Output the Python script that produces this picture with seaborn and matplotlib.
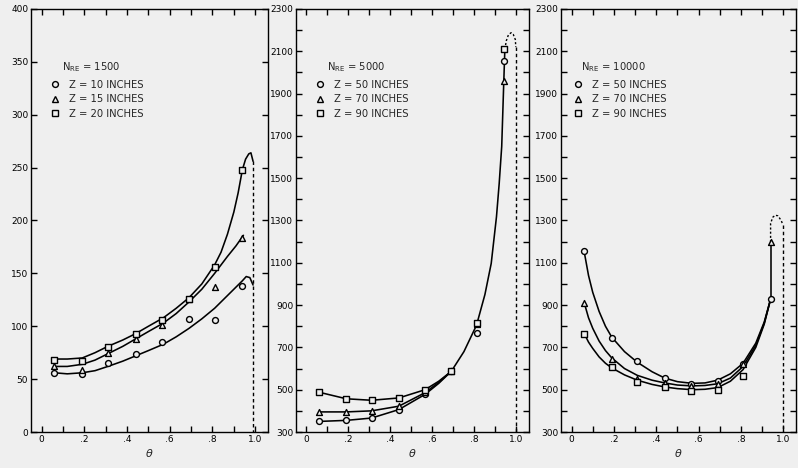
import numpy as np
import pandas as pd
import matplotlib
matplotlib.use("Agg")
import matplotlib.pyplot as plt
from matplotlib.lines import Line2D
import seaborn as sns

# measured points (theta, value) for each panel
theta = [0.06, 0.19, 0.31, 0.44, 0.565, 0.69, 0.81, 0.94]

p1_labels = ["Z = 10 INCHES", "Z = 15 INCHES", "Z = 20 INCHES"]
p1_z10 = [56, 55, 65, 74, 85, 107, 106, 138]
p1_z15 = [62, 59, 75, 88, 101, 126, 137, 183]
p1_z20 = [68, 67, 80, 93, 106, 126, 156, 248]

p2_labels = ["Z = 50 INCHES", "Z = 70 INCHES", "Z = 90 INCHES"]
p2_z50 = [350, 355, 366, 406, 482, 587, 768, 2054]
p2_z70 = [395, 395, 399, 422, 489, 587, 813, 1959]
p2_z90 = [488, 455, 450, 461, 500, 587, 815, 2110]

p3_labels = ["Z = 50 INCHES", "Z = 70 INCHES", "Z = 90 INCHES"]
p3_z50 = [1156, 745, 634, 553, 526, 541, 623, 928]
p3_z70 = [910, 647, 552, 532, 518, 525, 620, 1198]
p3_z90 = [761, 607, 536, 513, 494, 500, 565, np.nan]

# fitted curves
c1_x = [0.06, 0.12, 0.19, 0.25, 0.31, 0.38, 0.44, 0.50, 0.57, 0.63, 0.69, 0.75, 0.81, 0.87, 0.91, 0.94, 0.958, 0.975, 0.99]
c1_z10 = [56, 55, 56, 58, 62, 67, 72, 77, 83, 90, 98, 107, 117, 129, 137, 143, 147, 146, 139]
c1_x15 = [0.06, 0.12, 0.19, 0.25, 0.31, 0.38, 0.44, 0.50, 0.57, 0.63, 0.69, 0.75, 0.81, 0.87, 0.91, 0.945]
c1_z15 = [62, 62, 64, 68, 74, 81, 88, 95, 103, 112, 123, 135, 150, 166, 176, 186]
c1_x20 = [0.06, 0.12, 0.19, 0.25, 0.31, 0.38, 0.44, 0.50, 0.57, 0.63, 0.69, 0.75, 0.81, 0.84, 0.87, 0.90, 0.92, 0.94, 0.955, 0.97, 0.98, 0.99]
c1_z20 = [69, 69, 70, 75, 81, 87, 93, 100, 108, 117, 127, 140, 158, 170, 187, 208, 226, 248, 258, 263, 264, 256]
c1_drop_x = [0.99, 0.99]
c1_drop_y = [256, 0]

c2_x = [0.06, 0.19, 0.31, 0.44, 0.565, 0.63, 0.69]
c2_z50 = [350, 355, 366, 406, 478, 530, 587]
c2_z70 = [395, 395, 400, 422, 486, 535, 587]
c2_z90 = [488, 457, 450, 461, 500, 540, 587]
c2_top_x = [0.69, 0.75, 0.81, 0.85, 0.88, 0.905, 0.918, 0.93, 0.94, 0.945]
c2_top_y = [587, 680, 805, 950, 1097, 1317, 1475, 1650, 1960, 2110]
c2_dot_x = [0.945, 0.952, 0.962, 0.975, 0.985, 0.995, 0.997]
c2_dot_y = [2110, 2150, 2178, 2188, 2180, 2155, 2120]
c2_drop_x = [0.997, 0.997]
c2_drop_y = [2120, 300]

c3_x = [0.06, 0.08, 0.10, 0.13, 0.16, 0.19, 0.25, 0.31, 0.38, 0.44, 0.50, 0.57, 0.63, 0.69, 0.75, 0.81, 0.87, 0.91, 0.94]
c3_z50 = [1150, 1040, 960, 870, 800, 748, 680, 630, 585, 555, 538, 530, 532, 545, 575, 625, 720, 820, 928]
c3_z70 = [910, 840, 790, 730, 685, 650, 600, 568, 545, 532, 522, 518, 520, 528, 555, 610, 710, 815, 928]
c3_z90 = [765, 725, 695, 655, 625, 603, 570, 545, 525, 513, 505, 500, 502, 510, 540, 595, 700, 810, 928]
c3_rise_x = [0.94, 0.94]
c3_rise_y = [928, 1198]
c3_dot_x = [0.94, 0.94, 0.95, 0.962, 0.975, 0.99, 0.998]
c3_dot_y = [1198, 1286, 1315, 1325, 1322, 1300, 1280]
c3_drop_x = [0.998, 0.998]
c3_drop_y = [1280, 300]

bg = "#efefef"
sns.set_theme(style="ticks")
plt.rcParams["font.family"] = ["DejaVu Sans"]

fig = plt.figure(figsize=(7.98, 4.68), dpi=100, facecolor=bg)
axes = [
    fig.add_axes([31 / 798, 36 / 468, 237 / 798, 423 / 468]),
    fig.add_axes([296 / 798, 36 / 468, 233 / 798, 423 / 468]),
    fig.add_axes([561 / 798, 36 / 468, 235 / 798, 423 / 468]),
]
markers = ["o", "^", "s"]


def draw_curve(ax, xs, ys, ls="-", lw=1.15):
    d = pd.DataFrame({"x": xs, "y": ys})
    sns.lineplot(data=d, x="x", y="y", ax=ax, color="black", lw=lw, ls=ls,
                 sort=False, estimator=None)


def draw_points(ax, labels, series):
    for lab, vals, m in zip(labels, series, markers):
        d = pd.DataFrame({"theta": theta, "v": vals}).dropna()
        sns.scatterplot(data=d, x="theta", y="v", ax=ax, marker=m, s=18,
                        color=bg, edgecolor="black", linewidth=1.0, zorder=5)


def style_axes(ax, ylo, yhi, ystep, label_step, nre, labels, legx, titlex):
    ax.set_facecolor(bg)
    ax.set_xlim(-0.05, 1.06)
    ax.set_ylim(ylo, yhi)
    xt = np.round(np.arange(0, 1.01, 0.1), 2)
    ax.set_xticks(xt)
    xl = []
    for v in xt:
        if v == 0:
            xl.append("0")
        elif v == 1.0:
            xl.append("1.0")
        elif round(v * 10) % 2 == 0:
            xl.append("." + str(int(round(v * 10))))
        else:
            xl.append("")
    ax.set_xticklabels(xl)
    yt = np.arange(ylo, yhi + 1, ystep)
    ax.set_yticks(yt)
    ax.set_yticklabels([str(v) if (v - ylo) % label_step == 0 else "" for v in yt])
    ax.tick_params(direction="in", length=4, width=1, top=True, right=True,
                   labelsize=6.5, pad=2, colors="black")
    for sp in ax.spines.values():
        sp.set_visible(True)
        sp.set_color("black")
        sp.set_linewidth(1.0)
    ax.set_xlabel("θ", fontsize=8, style="italic", labelpad=4)
    ax.set_ylabel("")
    ax.text(titlex, 0.863, "N$_{\\mathrm{RE}}$ = " + nre, transform=ax.transAxes,
            fontsize=7.2, va="center", ha="left")
    handles = [Line2D([], [], ls="none", marker=m, ms=4.2, mfc=bg, mec="black", mew=1.0)
               for m in markers]
    ax.legend(handles, labels, loc="upper left", bbox_to_anchor=(legx, 0.842),
              frameon=False, fontsize=7.2, handlelength=1.0, handletextpad=0.9,
              labelspacing=0.45, borderaxespad=0)


# panel 1: N_RE = 1500
ax = axes[0]
draw_curve(ax, c1_x, c1_z10)
draw_curve(ax, c1_x15, c1_z15)
draw_curve(ax, c1_x20, c1_z20)
draw_curve(ax, c1_drop_x, c1_drop_y, ls=(0, (2.5, 2)), lw=1.0)
draw_points(ax, p1_labels, [p1_z10, p1_z15, p1_z20])
style_axes(ax, 0, 400, 50, 50, "1500", p1_labels, 0.063, 0.13)

# panel 2: N_RE = 5000
ax = axes[1]
draw_curve(ax, c2_x, c2_z50)
draw_curve(ax, c2_x, c2_z70)
draw_curve(ax, c2_x, c2_z90)
draw_curve(ax, c2_top_x, c2_top_y)
draw_curve(ax, c2_dot_x, c2_dot_y, ls=(0, (1.5, 1.5)), lw=1.0)
draw_curve(ax, c2_drop_x, c2_drop_y, ls=(0, (2.5, 2)), lw=1.0)
draw_points(ax, p2_labels, [p2_z50, p2_z70, p2_z90])
style_axes(ax, 300, 2300, 100, 200, "5000", p2_labels, 0.065, 0.133)

# panel 3: N_RE = 10000
ax = axes[2]
draw_curve(ax, c3_x, c3_z50)
draw_curve(ax, c3_x, c3_z70)
draw_curve(ax, c3_x, c3_z90)
draw_curve(ax, c3_rise_x, c3_rise_y)
draw_curve(ax, c3_dot_x, c3_dot_y, ls=(0, (1.5, 1.5)), lw=1.0)
draw_curve(ax, c3_drop_x, c3_drop_y, ls=(0, (2.5, 2)), lw=1.0)
draw_points(ax, p3_labels, [p3_z50, p3_z70, p3_z90])
style_axes(ax, 300, 2300, 100, 200, "10000", p3_labels, 0.034, 0.085)

fig.savefig("out.png", dpi=100, facecolor=bg)
